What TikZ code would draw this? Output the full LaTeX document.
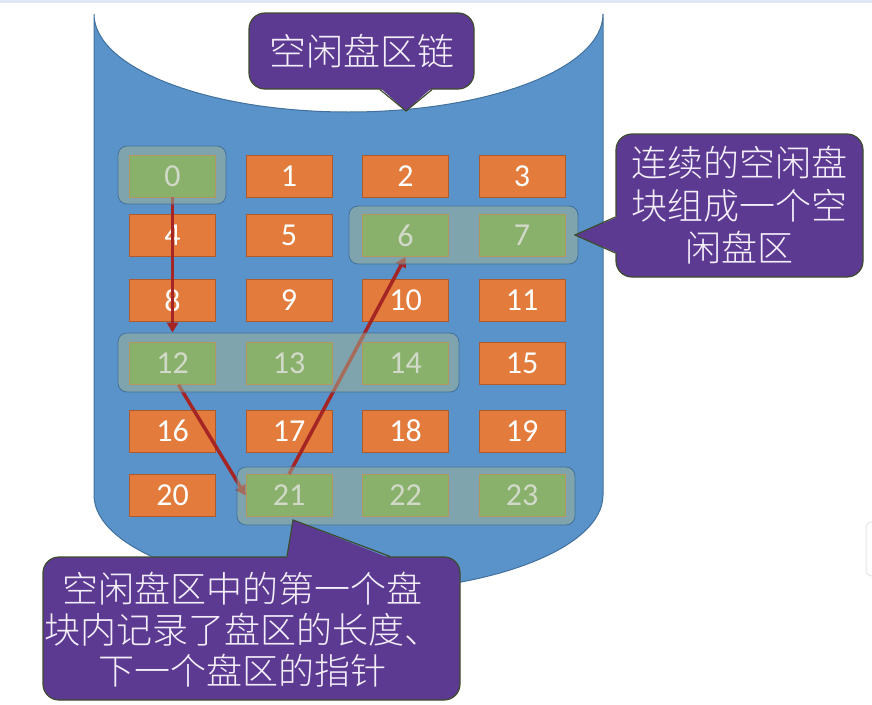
\documentclass[tikz,border=0pt]{standalone}
\usepackage{fontspec}
\setmainfont{Carlito}
\newfontfamily\cjk{Noto Sans CJK SC}[UprightFont={* Light}]
\usetikzlibrary{arrows.meta,calc}
\definecolor{topband}{HTML}{DDE8F4}
\definecolor{cylblue}{HTML}{5A93C9}
\definecolor{cylD}{HTML}{41719C}
\definecolor{orng}{HTML}{E27B3B}
\definecolor{orngD}{HTML}{AE5A2A}
\definecolor{grn}{HTML}{70AD47}
\definecolor{grnD}{HTML}{C0782E}
\definecolor{grpF}{HTML}{A5B592}
\definecolor{grpD}{HTML}{41719C}
\definecolor{arrC}{HTML}{A52424}
\definecolor{purp}{HTML}{5C3A92}
\definecolor{purpD}{HTML}{3E4B2E}
\definecolor{ctxt}{HTML}{F4EEFA}
\pgfdeclarelayer{cyl}
\pgfdeclarelayer{arrows}
\pgfdeclarelayer{grp}
\pgfdeclarelayer{top}
\pgfsetlayers{cyl,main,arrows,grp,top}
\begin{document}
\begin{tikzpicture}[x=1pt,y=-1pt,
  cell/.style={minimum width=86pt,minimum height=42pt,inner sep=0pt,font=\fontsize{32}{32}\selectfont,line width=0.8pt,text=white},
  cellO/.style={cell,fill=orng,draw=orngD},
  cellG/.style={cell,fill=grn,draw=grnD},
  grp/.style={rounded corners=9pt,fill=grpF,fill opacity=0.5,draw=grpD,draw opacity=1,line width=0.8pt,inner sep=0pt},
  arr/.style={draw=arrC,line width=3.5pt,-{Triangle[width=11pt,length=10pt]}},
  callout/.style={rounded corners=16pt,fill=purp,draw=purpD,line width=1.2pt,inner sep=0pt},
  ctext/.style={text=ctxt,font=\cjk\fontsize{36}{42.5}\selectfont,align=center,inner sep=0pt},
  ptrfill/.style={fill=purp},
  ptredge/.style={draw=purpD,line width=1.2pt,line join=miter}]
\useasboundingbox (0,0) rectangle (872,704);
\begin{pgfonlayer}{cyl}
\fill[topband] (0,0) rectangle (872,3);
\draw[fill=cylblue,draw=cylD,line width=1pt] (94,14) -- (94,495)
  arc[start angle=180,end angle=360,x radius=254.5pt,y radius=97pt]
  -- (603,14)
  arc[start angle=0,end angle=-180,x radius=254.5pt,y radius=98pt] -- cycle;
\draw[draw=gray!20,line width=1pt,rounded corners=6pt] (866,522) rectangle (890,576);
\end{pgfonlayer}
% groups (translucent, over cells and arrows)
\begin{pgfonlayer}{grp}
\node[grp,minimum width=108pt,minimum height=58pt] (g0) at (172,175) {};
\node[grp,minimum width=229pt,minimum height=58pt] (g6) at (463.5,235) {};
\node[grp,minimum width=341pt,minimum height=59pt] (g12) at (288.5,362.5) {};
\node[grp,minimum width=338pt,minimum height=58pt] (g21) at (406,496) {};
\end{pgfonlayer}
% cells
\node[cellG] (c0) at (172.5,176) {0};
\node[cellO] (c1) at (289,176) {1};
\node[cellO] (c2) at (405.5,176) {2};
\node[cellO] (c3) at (522,176) {3};
\node[cellO] (c4) at (172.5,235.5) {4};
\node[cellO] (c5) at (289,235.5) {5};
\node[cellG] (c6) at (405.5,235.5) {6};
\node[cellG] (c7) at (522,235.5) {7};
\node[cellO] (c8) at (172.5,300.5) {8};
\node[cellO] (c9) at (289,300.5) {9};
\node[cellO] (c10) at (405.5,300.5) {10};
\node[cellO] (c11) at (522,300.5) {11};
\node[cellG] (c12) at (172.5,363.5) {12};
\node[cellG] (c13) at (289,363.5) {13};
\node[cellG] (c14) at (405.5,363.5) {14};
\node[cellO] (c15) at (522,363.5) {15};
\node[cellO] (c16) at (172.5,431) {16};
\node[cellO] (c17) at (289,431) {17};
\node[cellO] (c18) at (405.5,431) {18};
\node[cellO] (c19) at (522,431) {19};
\node[cellO] (c20) at (172.5,495.5) {20};
\node[cellG] (c21) at (289,495.5) {21};
\node[cellG] (c22) at (405.5,495.5) {22};
\node[cellG] (c23) at (522,495.5) {23};
% arrows
\begin{pgfonlayer}{arrows}
\draw[arr] (c0.south) -- (c0.south |- g12.north);
\draw[arr] ($(c12.south)+(6,0)$) -- (c21.west);
\draw[arr] (c21.north) -- (c6.south);
\end{pgfonlayer}
\begin{pgfonlayer}{top}
% top callout
\node[callout,ctext,font=\cjk\fontsize{37}{37}\selectfont,minimum width=225pt,minimum height=76pt] (t1) at (361.5,51) {空闲盘区链};
\coordinate (t1tip) at (406,111);
\fill[ptrfill] ($(t1.south)+(18.5,-2)$) -- (t1tip) -- ($(t1.south)+(70.5,-2)$) -- cycle;
\draw[ptredge] ($(t1.south)+(18.5,0)$) -- (t1tip) -- ($(t1.south)+(70.5,0)$);
% right callout
\node[callout,ctext,minimum width=247pt,minimum height=143pt] (t2) at (739.5,205.5) {连续的空闲盘\\块组成一个空\\闲盘区};
\coordinate (t2tip) at (575,235);
\fill[ptrfill] ($(t2.west)+(2,11.5)$) -- (t2tip) -- ($(t2.west)+(2,47.5)$) -- cycle;
\draw[ptredge] ($(t2.west)+(0,11.5)$) -- (t2tip) -- ($(t2.west)+(0,47.5)$);
% bottom callout
\node[callout,minimum width=417pt,minimum height=143pt] (t3) at (251.5,628.5) {};
\coordinate (t3tip) at (293,520);
\fill[ptrfill] ($(t3.north)+(35.5,2)$) -- (t3tip) -- ($(t3.north)+(138.5,2)$) -- cycle;
\draw[ptredge] ($(t3.north)+(35.5,0)$) -- (t3tip) -- ($(t3.north)+(138.5,0)$);
\node[ctext,font=\cjk\fontsize{36}{41}\selectfont] (t3txt) at (242,630) {空闲盘区中的第一个盘\\块内记录了盘区的长度、\\下一个盘区的指针};
\end{pgfonlayer}
\end{tikzpicture}
\end{document}
